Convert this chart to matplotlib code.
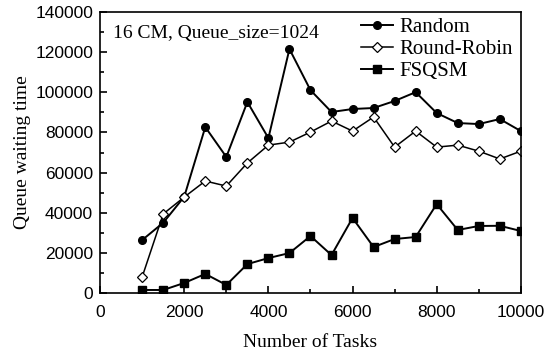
import matplotlib
matplotlib.use("Agg")
import matplotlib.pyplot as plt
from matplotlib.ticker import MultipleLocator

tasks = [1000, 1500, 2000, 2500, 3000, 3500, 4000, 4500, 5000, 5500,
         6000, 6500, 7000, 7500, 8000, 8500, 9000, 9500, 10000]

random_wait = [26400, 35000, 48000, 82700, 67800, 95200, 77200, 121600, 101100, 90200,
               91700, 92200, 95700, 100100, 89700, 84700, 84200, 86700, 80700]
round_robin_wait = [8000, 39400, 47800, 55800, 53300, 64800, 73700, 75200, 80200, 85700,
                    80700, 87700, 72700, 80700, 72700, 73700, 70700, 66800, 70700]
fsqsm_wait = [1500, 1500, 5000, 9500, 4000, 14400, 17400, 19900, 28400, 18900,
              37400, 22900, 26900, 27900, 44300, 31400, 33400, 33500, 30900]

serif = "Liberation Serif"
sans = "Liberation Sans"

fig = plt.figure(figsize=(5.5, 3.56), dpi=100)
ax = fig.add_axes([0.182, 0.177, 0.765, 0.789])

ax.plot(tasks, random_wait, color="black", lw=1.4, marker="o", ms=5.5,
        mfc="black", mec="black", label="Random")
ax.plot(tasks, round_robin_wait, color="black", lw=1.1, marker="D", ms=5,
        mfc="white", mec="black", mew=0.9, label="Round-Robin")
ax.plot(tasks, fsqsm_wait, color="black", lw=1.4, marker="s", ms=5.5,
        mfc="black", mec="black", label="FSQSM")

ax.set_xlim(0, 10000)
ax.set_ylim(0, 140000)
ax.xaxis.set_major_locator(MultipleLocator(2000))
ax.xaxis.set_minor_locator(MultipleLocator(1000))
ax.yaxis.set_major_locator(MultipleLocator(20000))
ax.yaxis.set_minor_locator(MultipleLocator(10000))
ax.tick_params(which="both", direction="in", width=1.2)
ax.tick_params(which="major", length=5, labelsize=12.5)
ax.tick_params(axis="x", which="major", pad=9)
ax.tick_params(axis="y", which="major", pad=5)
ax.tick_params(which="minor", length=3)
for lab in ax.get_xticklabels() + ax.get_yticklabels():
    lab.set_fontfamily(sans)
for sp in ax.spines.values():
    sp.set_linewidth(1.2)

ax.set_xlabel("Number of Tasks", fontfamily=serif, fontsize=14, labelpad=10)
ax.set_ylabel("Queue waiting time", fontfamily=serif, fontsize=14, labelpad=3)

ax.text(0.03, 0.925, "16 CM, Queue_size=1024", transform=ax.transAxes,
        fontfamily=serif, fontsize=14, va="center", ha="left")

ax.legend(loc="upper right", bbox_to_anchor=(0.99, 0.995), frameon=False,
          prop={"family": serif, "size": 15},
          handlelength=1.5, handletextpad=0.3, labelspacing=0.12,
          borderaxespad=0.0, borderpad=0.2)

fig.savefig("out.png", dpi=100)
